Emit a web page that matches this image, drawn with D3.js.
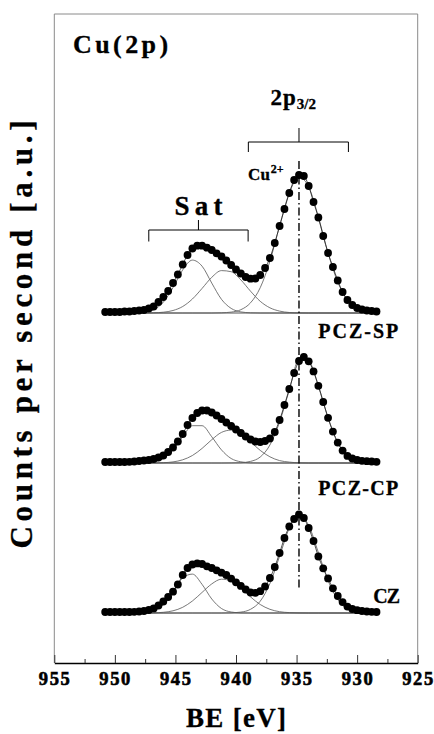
<!DOCTYPE html>
<html><head><meta charset="utf-8">
<script src="https://cdn.jsdelivr.net/npm/d3@7"></script>
<style>
body{margin:0;background:#fff}
svg text{font-family:"Liberation Serif","Times New Roman",serif;font-weight:bold;fill:#000;stroke:#000;stroke-width:0.3px}
</style>
</head><body>
<svg id="c" width="434" height="734"></svg>
<script>
// Binding energy grid of the measured points (eV)
const beData = [950.8,950.4,950.0,949.6,949.2,948.8,948.4,948.0,947.6,947.2,946.8,946.4,946.0,945.6,945.2,944.8,944.4,944.0,943.6,943.2,942.8,942.4,942.0,941.6,941.2,940.8,940.4,940.0,939.6,939.2,938.8,938.4,938.0,937.6,937.2,936.8,936.4,936.0,935.6,935.2,934.8,934.4,934.0,933.6,933.2,932.8,932.4,932.0,931.6,931.2,930.8,930.4,930.0,929.6,929.2,928.8,928.4];
// Measured counts (a.u., above each spectrum's baseline)
const countsPCZSP = [1,1,1,1,1.5,1.5,2,2.5,3,4.5,6.5,11,16,22,30,38.5,48.5,58,64.5,67.3,67.3,65.3,63,59.7,56.5,52.5,48,43.5,39.5,36,34.3,34.5,38,45,55,70,87,104,120,133,138,137,127,111,95.5,77,60,46,32.5,21,13,8,5,3.5,2.5,2,1.5];
const countsPCZCP = [1,1,1,1,1,1.2,1.5,2,2.5,3,4,5.5,7.5,11,15.5,21.5,29,38,45,50,52.5,52.5,50.5,47.5,44,40.5,37,33.5,30,26.5,23.5,21.5,21,22,24.5,31,43,58,74,90,102,106,101.7,91.6,77.2,61,45.2,31.4,20.4,12.4,7.1,4.5,3,2.2,1.8,1.5,1.2];
const countsCZ = [1,1,1,1,1,1,1.2,1.5,2,3,4.6,7.5,11.5,16,21.3,28.5,38,45,48.5,49.6,49,46.7,45,42.7,40.3,38,34.4,30.7,27.1,23.5,20.5,20.2,21.8,26.5,35,46,60,75,86.5,94,98.5,95,85,72,56.5,44.7,34.6,24.7,17,10.9,6.4,4,2.8,2,1.5,1.2,1];
// Binding energy grid of the fitted component curves (eV)
const beFit = [950.8,950.0,949.2,948.4,947.6,946.8,946.0,945.2,944.4,943.6,942.8,942.0,941.2,940.4,939.6,938.8,938.0,937.2,936.4,935.6,934.8,934.0,933.2,932.4,931.6,930.8,930.0,929.2,928.4];
// Fitted components: satellite 1, satellite 2, main Cu2+ 2p3/2
const fitPCZSP_sat1 = [0,0,0,0.1,0.7,3.3,10.8,25.4,43.1,52.9,46.8,29.9,13.7,4.6,1.1,0.2,0,0,0,0,0,0,0,0,0,0,0,0,0];
const fitPCZSP_sat2 = [0,0,0,0,0,0.2,0.8,2.5,6.5,14,24.6,35.7,42.4,41.3,33.1,21.8,11.7,5.2,1.9,0.5,0.1,0,0,0,0,0,0,0,0];
const fitPCZSP_main = [0,0,0,0,0,0,0,0,0,0,0,0,0.2,0.9,3.3,10.2,25.3,51.8,87.1,120,135.8,126.1,96.1,60.1,30.9,13,4.5,1.3,0.3];
const fitPCZCP_sat1 = [0,0,0,0,0.2,1.2,4.5,13.1,26.2,37.3,37.3,26.2,13.1,4.5,1.2,0.2,0,0,0,0,0,0,0,0,0,0,0,0,0];
const fitPCZCP_sat2 = [0,0,0,0,0,0.1,0.3,1.1,3.2,7.5,14.6,23.3,30.6,32.9,29.1,21.1,12.6,6.2,2.4,0.9,0.2,0,0,0,0,0,0,0,0];
const fitPCZCP_main = [0,0,0,0,0,0,0,0,0,0,0,0,0,0.1,0.3,1.6,6,18,41,73,103.4,101.7,77.2,45.2,20.4,7.1,1.9,0.4,0.1];
const fitCZ_sat1 = [0,0,0,0,0.4,2.2,8.4,21,35.1,38.9,28.6,14,4.5,1,0.1,0,0,0,0,0,0,0,0,0,0,0,0,0,0];
const fitCZ_sat2 = [0,0,0,0,0,0.2,0.7,2.2,5.7,12,20.6,29.1,33.8,32.2,25.1,16.1,8.5,3.7,1.3,0.4,0.1,0,0,0,0,0,0,0,0];
const fitCZ_main = [0,0,0,0,0,0,0,0,0,0,0,0,0,0.2,0.9,3.7,11.8,29.4,56.8,84.8,98,87.6,60.5,32.4,13.4,4.3,1.1,0.2,0];

const sampleNames = ["PCZ-SP","PCZ-CP","CZ"];
const sampleOffsets = [350,200,50];
const majorTicks = [955,950,945,940,935,930,925];
const tickLabels = ["955","950","945","940","935","930","925"];
const minorTicks = [952.5,947.5,942.5,937.5,932.5,927.5];
const cu2pPosition = 934.8;

const spectra = [
  {name:sampleNames[0], off:sampleOffsets[0], counts:countsPCZSP, fits:[fitPCZSP_sat1,fitPCZSP_sat2,fitPCZSP_main]},
  {name:sampleNames[1], off:sampleOffsets[1], counts:countsPCZCP, fits:[fitPCZCP_sat1,fitPCZCP_sat2,fitPCZCP_main]},
  {name:sampleNames[2], off:sampleOffsets[2], counts:countsCZ, fits:[fitCZ_sat1,fitCZ_sat2,fitCZ_main]}
];

const svg = d3.select("#c");
const L=54.3, R=417.7, T=14, B=663;
const x = d3.scaleLinear().domain([955,925]).range([L,R]);
const y = d3.scaleLinear().domain([0,649]).range([B,T]);

// frame
svg.append("path").attr("d",`M${L},${B}V${T}H${R}V${B}`).attr("fill","none").attr("stroke","#8a8a8a").attr("stroke-width",1);

// axes (ticks from d3 axis, labels as own text)
const ax = svg.append("g").attr("transform",`translate(0,${B})`)
  .call(d3.axisBottom(x).tickValues(majorTicks).tickSizeInner(-8).tickSizeOuter(0).tickFormat(""));
ax.select(".domain").attr("stroke","#000").attr("stroke-width",1.5);
ax.selectAll(".tick line").attr("stroke","#333");
const axm = svg.append("g").attr("transform",`translate(0,${B})`)
  .call(d3.axisBottom(x).tickValues(minorTicks).tickSizeInner(-4).tickSizeOuter(0).tickFormat(""));
axm.select(".domain").remove();
axm.selectAll(".tick line").attr("stroke","#333");
svg.append("g").selectAll("text").data(majorTicks).enter().append("text")
  .attr("x",d=>x(d)).attr("y",B+22).attr("text-anchor","middle")
  .style("font-size","18.5px").style("stroke-width","0.6px").attr("textLength",31).attr("lengthAdjust","spacing")
  .text((d,i)=>tickLabels[i]);

svg.append("text").attr("x",x(940)).attr("y",727).attr("text-anchor","middle").style("font-size","27px").attr("textLength",100).attr("lengthAdjust","spacing").text("BE [eV]");
svg.append("text").attr("transform",`translate(32,${(T+B)/2-4}) rotate(-90)`).attr("text-anchor","middle").style("font-size","31px").attr("textLength",428).attr("lengthAdjust","spacing").text("Counts per second [a.u.]");

// spectra
const fitLine = d3.line().curve(d3.curveMonotoneX);
const g = svg.append("g");
spectra.forEach(s=>{
  g.append("line").attr("x1",x(beData[0])).attr("x2",x(beData[beData.length-1]))
   .attr("y1",y(s.off)).attr("y2",y(s.off)).attr("stroke","#555").attr("stroke-width",1);
  s.fits.forEach(f=>{
    g.append("path").attr("d",fitLine(f.map((v,i)=>[x(beFit[i]),y(v+s.off)])))
     .attr("fill","none").attr("stroke","#555").attr("stroke-width",0.8);
  });
  g.append("path").attr("d",fitLine(s.counts.map((v,i)=>[x(beData[i]),y(v+s.off)])))
   .attr("fill","none").attr("stroke","#222").attr("stroke-width",0.8);
  g.selectAll(null).data(s.counts).enter().append("circle")
   .attr("cx",(d,i)=>x(beData[i])).attr("cy",d=>y(d+s.off)).attr("r",3.9).attr("fill","#000");
});

// dash-dot Cu2+ line
svg.append("line").attr("x1",x(cu2pPosition)).attr("x2",x(cu2pPosition)).attr("y1",y(502)).attr("y2",y(75))
  .attr("stroke","#000").attr("stroke-width",1.4).attr("stroke-dasharray","8,3,1.5,3");

// annotations
svg.append("text").attr("x",x(953.45)).attr("y",y(610)).style("font-size","26px").attr("textLength",95).attr("lengthAdjust","spacing").text("Cu(2p)");

function bracket(b0,b1,bm,yv,drop,stem){
  svg.append("path").attr("d",`M${x(b0)},${y(yv-drop)}V${y(yv)}H${x(b1)}V${y(yv-drop)}M${x(bm)},${y(yv)}V${y(yv+stem)}`)
    .attr("fill","none").attr("stroke","#000").attr("stroke-width",1);
}
bracket(938.98,930.72,934.8,521,10,14);
bracket(947.2,939.0,943.1,433,11.5,10);

const t2p = svg.append("text").attr("x",x(937.15)).attr("y",y(558));
t2p.append("tspan").style("font-size","23px").style("letter-spacing","1px").text("2p");
t2p.append("tspan").style("font-size","15px").attr("dy",4).text("3/2");

svg.append("text").attr("x",x(943.1)).attr("y",y(448)).attr("text-anchor","middle").style("font-size","27px").attr("textLength",48).attr("lengthAdjust","spacing").text("Sat");

const tcu = svg.append("text").attr("x",x(939.0)).attr("y",y(483));
tcu.append("tspan").style("font-size","17px").text("Cu");
tcu.append("tspan").style("font-size","12px").attr("dy",-7).attr("dx",1).text("2+");

const labelBE = [926.6,926.6,926.45];
const labelY = [325,168,60];
const labelW = [80,80,27];
spectra.forEach((s,i)=>{
  svg.append("text").attr("x",x(labelBE[i])).attr("y",y(labelY[i])).attr("text-anchor","end")
   .style("font-size","20px").attr("textLength",labelW[i]).attr("lengthAdjust","spacing").text(s.name);
});
</script>
</body></html>
